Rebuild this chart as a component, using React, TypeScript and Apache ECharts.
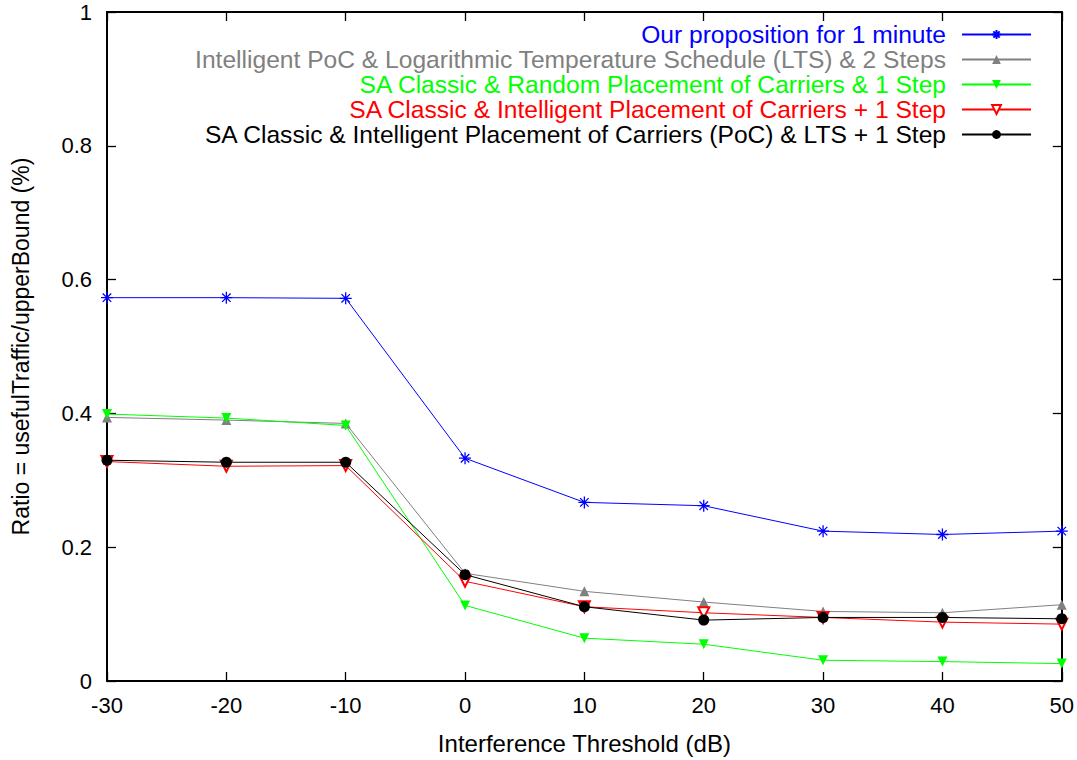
import React, { useEffect, useRef } from "react";
import * as echarts from "echarts";

const thresholds = [-30, -20, -10, 0, 10, 20, 30, 40, 50];

const seriesNames = [
  "Our proposition for 1 minute",
  "Intelligent PoC & Logarithmic Temperature Schedule (LTS) & 2 Steps",
  "SA Classic & Random Placement of Carriers & 1 Step",
  "SA Classic & Intelligent Placement of Carriers + 1 Step",
  "SA Classic & Intelligent Placement of Carriers (PoC) & LTS + 1 Step",
];

const ourProposition = [0.573, 0.573, 0.572, 0.333, 0.267, 0.262, 0.224, 0.219, 0.224];
const intelligentPocLts2 = [0.394, 0.39, 0.385, 0.161, 0.134, 0.118, 0.104, 0.102, 0.114];
const saRandom1 = [0.399, 0.393, 0.382, 0.113, 0.064, 0.055, 0.031, 0.029, 0.026];
const saIntelligent1 = [0.328, 0.321, 0.322, 0.149, 0.111, 0.102, 0.095, 0.088, 0.085];
const saIntelligentPocLts1 = [0.33, 0.327, 0.327, 0.159, 0.111, 0.091, 0.095, 0.095, 0.093];

const yTicks = { min: 0, max: 1, interval: 0.2 };
const xTicks = { min: -30, max: 50, interval: 10 };

const colors = ["#0000ff", "#808080", "#00ff00", "#ff0000", "#000000"];

const FONT = "Liberation Sans, Arial, Helvetica, sans-serif";

export default function App() {
  const ref = useRef<HTMLDivElement>(null);
  useEffect(() => {
    document.body.style.margin = "0";
    if (!ref.current) return;
    const chart = echarts.init(ref.current, null, { renderer: "svg" });
    const allData = [ourProposition, intelligentPocLts2, saRandom1, saIntelligent1, saIntelligentPocLts1];
    const symbols = [
      "path://M0,-10L0,10M-10,0L10,0M-7.07,-7.07L7.07,7.07M-7.07,7.07L7.07,-7.07",
      "triangle",
      "triangle",
      "emptyTriangle",
      "circle",
    ];
    const rotates = [0, 0, 180, 180, 0];
    const sizes = [12, 10, 10, 11, 11];
    const series = allData.map((vals, i) => ({
      name: seriesNames[i],
      type: "line",
      xAxisIndex: 0,
      yAxisIndex: 0,
      data: thresholds.map((x, j) => [x, vals[j]]),
      symbol: symbols[i],
      symbolRotate: rotates[i],
      symbolSize: sizes[i],
      showAllSymbol: true,
      lineStyle: { color: colors[i], width: 1 },
      itemStyle: {
        color: colors[i],
        borderColor: colors[i],
        borderWidth: i === 0 ? 1.3 : i === 3 ? 1 : 0,
      },
      emphasis: { disabled: true },
      z: 2 + i,
    }));
    const axisCommon = {
      type: "value",
      axisLine: { show: true, onZero: false, lineStyle: { color: "#000", width: 2 } },
      axisTick: { show: true, inside: true, length: 9, lineStyle: { color: "#000", width: 1.3 } },
      splitLine: { show: false },
    };
    chart.setOption({
      animation: false,
      grid: { left: 107, right: 15, top: 12, bottom: 78, containLabel: false },
      legend: {
        orient: "vertical",
        align: "right",
        right: 45,
        top: 22,
        padding: 0,
        itemGap: 0,
        itemWidth: 69,
        itemHeight: 11,
        selectedMode: false,
        data: seriesNames.map((n, i) => ({
          name: n,
          textStyle: { color: colors[i] },
        })),
        textStyle: { fontFamily: FONT, fontSize: 24.6, lineHeight: 24.5, padding: [0, 11, 0, 0] },
      },
      xAxis: [
        {
          ...axisCommon,
          position: "bottom",
          min: xTicks.min,
          max: xTicks.max,
          interval: xTicks.interval,
          name: "Interference Threshold (dB)",
          nameLocation: "middle",
          nameGap: 50,
          nameTextStyle: { fontFamily: FONT, fontSize: 24, color: "#000" },
          axisLabel: { fontFamily: FONT, fontSize: 22, color: "#000", margin: 13 },
        },
        {
          ...axisCommon,
          position: "top",
          min: xTicks.min,
          max: xTicks.max,
          interval: xTicks.interval,
          axisLabel: { show: false },
        },
      ],
      yAxis: [
        {
          ...axisCommon,
          position: "left",
          min: yTicks.min,
          max: yTicks.max,
          interval: yTicks.interval,
          name: "Ratio = usefulTraffic/upperBound (%)",
          nameLocation: "middle",
          nameGap: 75,
          nameTextStyle: { fontFamily: FONT, fontSize: 23, color: "#000" },
          axisLabel: {
            fontFamily: FONT,
            fontSize: 22,
            color: "#000",
            margin: 15,
            formatter: (v: number) => (v === 0 || v === 1 ? String(v) : v.toFixed(1)),
          },
        },
        {
          ...axisCommon,
          position: "right",
          min: yTicks.min,
          max: yTicks.max,
          interval: yTicks.interval,
          axisLabel: { show: false },
        },
      ],
      series,
    });
    return () => chart.dispose();
  }, []);
  return <div ref={ref} style={{ width: 1077, height: 760 }} />;
}
